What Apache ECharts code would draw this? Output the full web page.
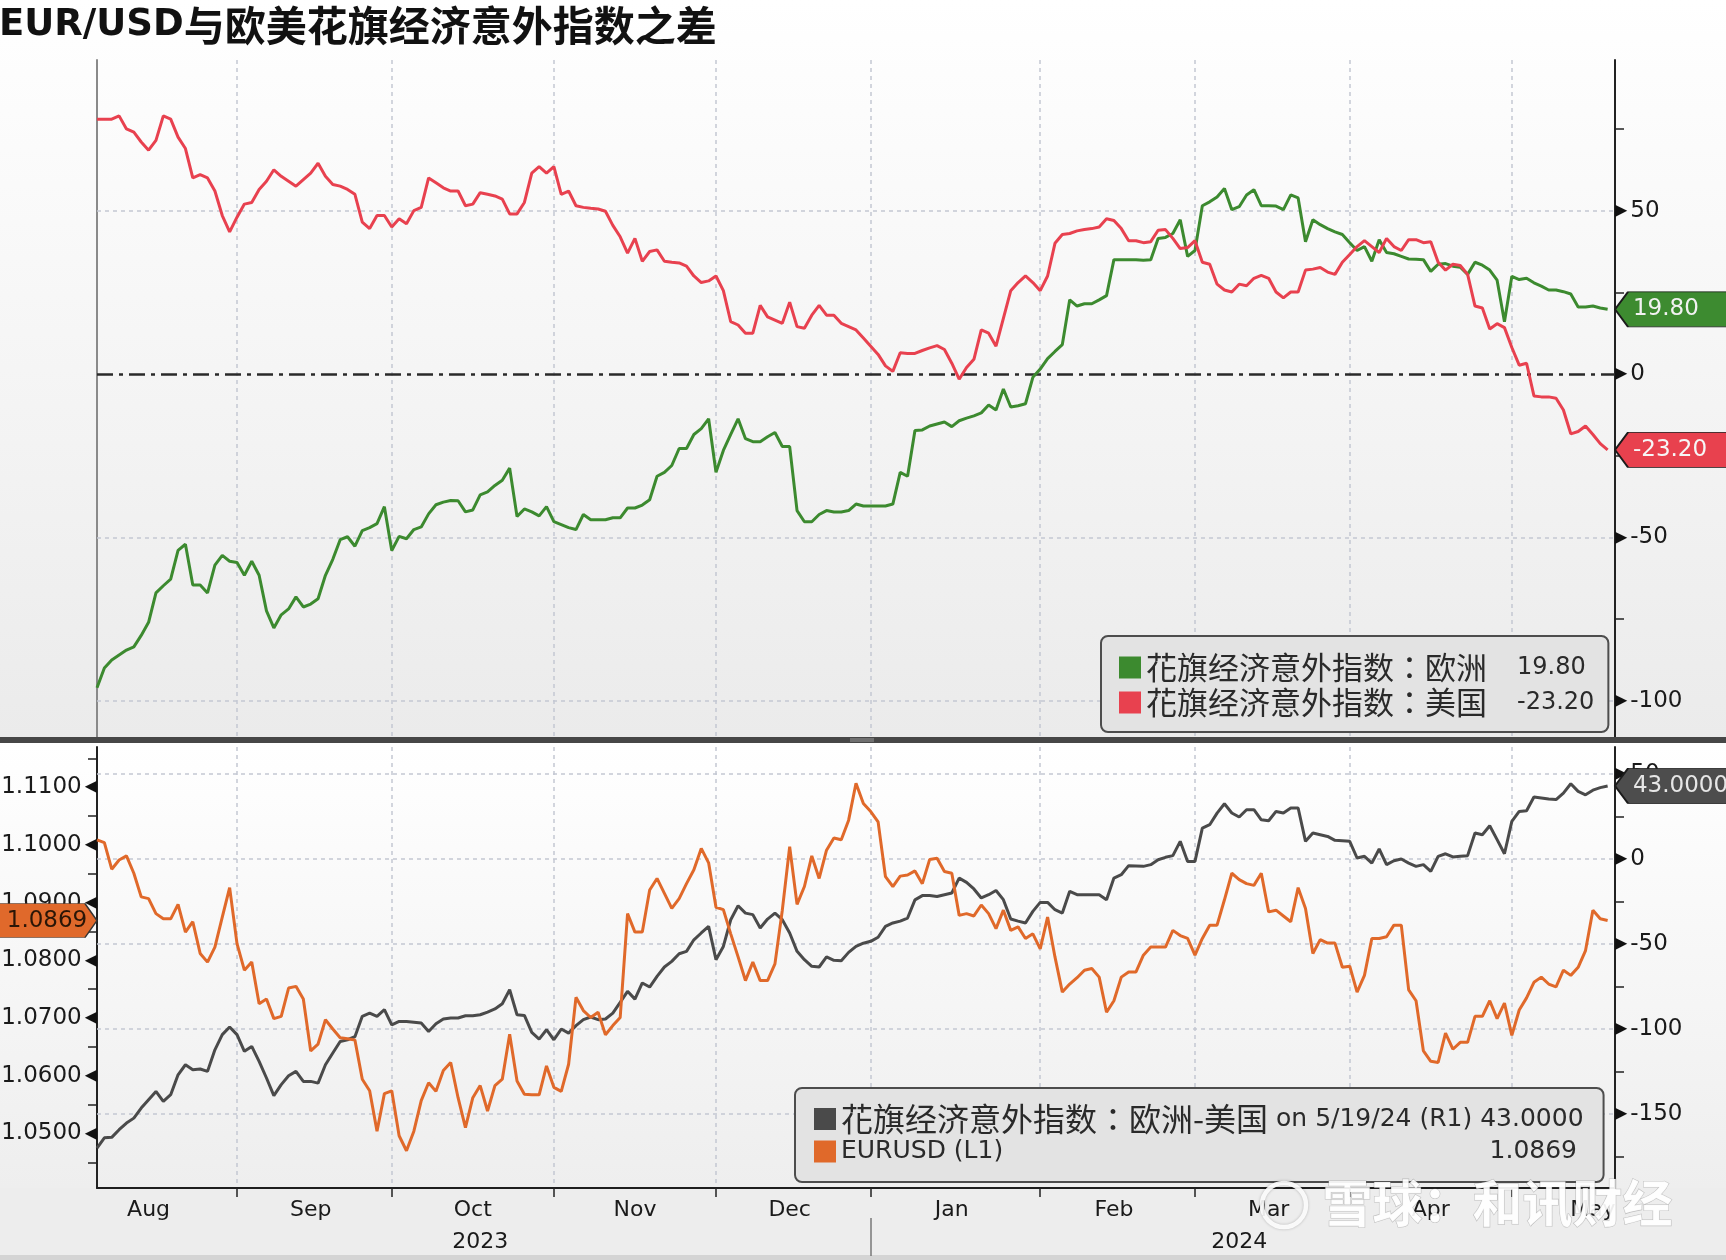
<!DOCTYPE html>
<html>
<head>
<meta charset="utf-8">
<script src="https://cdn.jsdelivr.net/npm/echarts@6/dist/echarts.min.js"></script>
<style>
html,body{margin:0;padding:0;background:#f1f1f1;}
#chart{width:1726px;height:1260px;}
</style>
</head>
<body>
<div id="chart"></div>
<script>
// ---------- categories: weekdays (business-day axis) ----------
const dates = (function () {
  const out = [];
  const d = new Date(Date.UTC(2023, 7, 7));
  const end = Date.UTC(2024, 4, 21);
  while (d.getTime() <= end) {
    const w = d.getUTCDay();
    if (w !== 0 && w !== 6) out.push(d.toISOString().slice(0, 10));
    d.setUTCDate(d.getUTCDate() + 1);
  }
  return out;
})();
const monthNames = ['Jan','Feb','Mar','Apr','May','Jun','Jul','Aug','Sep','Oct','Nov','Dec'];

// ---------- series values (one per weekday) ----------
const euSurprise = [
  -96,-90,-87.5,-86,-84.5,-83.5,-80,-76,-67,-64.8,
  -62.8,-54,-52.1,-64.6,-64.6,-67,-58.5,-55.5,-57.3,-57.7,
  -61.6,-57.3,-61.6,-72.5,-77.7,-73.7,-71.9,-68.2,-71.3,-70.4,
  -68.8,-61.6,-56.7,-50.7,-49.8,-52.7,-47.9,-47,-45.8,-40.6,
  -54,-49.7,-50.4,-47.6,-46.8,-42.8,-40,-39.2,-38.7,-38.8,
  -42.2,-41.6,-37,-36.1,-34.1,-32.5,-28.8,-43.6,-41.3,-42.2,
  -43.4,-40.6,-45.2,-46.1,-47,-47.6,-43,-44.6,-44.6,-44.6,
  -44,-44,-41,-41,-40.1,-38.5,-31.3,-30.1,-28,-22.8,
  -22.8,-18.5,-16.7,-13.7,-30.1,-23.4,-18.5,-13.7,-19.8,-20.7,
  -20.7,-19.2,-17.9,-22.2,-22.2,-41.8,-45.2,-45.2,-43,-41.8,
  -42.2,-42.2,-41.8,-39.8,-40.4,-40.4,-40.4,-40.4,-39.8,-30.1,
  -31.3,-17.3,-17.1,-15.9,-15.3,-14.7,-16.1,-14.3,-13.5,-12.8,
  -11.9,-9.5,-11,-4.6,-10.1,-9.7,-9.1,-1,1.5,4.7,
  6.9,9,22.7,20.8,21.5,21.5,22.7,24,35,35,
  35,35,34.8,35,41.5,41.8,43,47.2,36,37.8,
  51.5,52.7,54.2,56.8,50.3,51.2,54.8,56.4,51.5,51.5,
  51.4,50.3,54.8,53.9,40.5,47.2,45.7,44.5,43.5,42.7,
  40.2,37.8,39,34.5,41.1,37.2,36.8,36,35.2,35.1,
  35,31.4,33.6,33.8,33,32.7,30.5,34.2,33.3,31.8,
  28.7,16,29.9,28.9,29.3,27.9,26.9,25.7,25.7,25.2,
  24.5,20.5,20.5,20.8,20.2,19.8
];
const usSurprise = [
  78,78,78,79,75,74,71,68.5,71.5,79,
  78,72.5,69,60,61,60,56,48.5,43.5,48,
  52,52.5,56.5,59,62.5,60.5,59,57.5,59.5,61.5,
  64.5,60.5,58,57.5,56.5,55,46.5,44.5,48.5,48.5,
  45,47.5,46,50,51,60,58.5,57,56,56,
  51.5,52,55.5,55,54.5,53.5,49,49,52.5,61.5,
  63.5,61.5,63.5,55,56,51.5,51,50.7,50.5,49.8,
  45.5,42,37,41.5,34.5,37.5,38,34.5,34.2,34,
  33,30,28,28.5,30,25.5,16,15,12.5,12.5,
  21,17.5,16.5,15.5,22,14.5,14,18,21,18,
  18,15.5,14.5,13.5,11,8.5,6,2.5,0.8,6.5,
  6.3,6.3,7.2,8,8.7,7.5,3.3,-1.6,2,4.5,
  13.5,12.5,8.5,17,25.5,28,30,28,25.5,30,
  40,42.7,43,43.8,44.2,44.5,45,47.5,47,44.5,
  40.8,40.8,40.2,40.5,44,44.2,41.5,38.4,38.7,40.8,
  34.2,33.6,27.5,25.7,25.1,27.5,27,29.3,30.2,29.3,
  25.1,23.3,25.1,25.1,31.8,32.1,32.6,31.2,30.5,34.2,
  36.6,39,40.8,39,37.2,41.5,39,37.8,41.1,41.1,
  40.2,40.5,34.2,31.8,33.6,33.2,30.5,20.8,20.2,13.8,
  15.4,14.2,8.1,2.7,3.3,-6.7,-7,-7,-7.4,-11,
  -18.3,-17.6,-15.9,-18.5,-21.3,-23.2
];
const euMinusUs = [
  -170,-164,-163.7,-159.2,-155.3,-152.4,-146.5,-141.6,-136.7,-142.5,
  -138.6,-126.9,-121,-123.9,-123.5,-124.9,-112.2,-103.3,-98.8,-103.3,
  -113.1,-110.2,-119,-128.8,-139.2,-132.7,-127.5,-124.9,-130.8,-130.8,
  -131.8,-121,-114.1,-107.3,-106.3,-104.5,-92.5,-90.6,-92.5,-88.6,
  -97.5,-95.5,-95.5,-96,-96.5,-101.4,-96.9,-94.1,-93.5,-93.5,
  -92.2,-92.2,-91.6,-90,-88.2,-85.1,-76.9,-91.6,-92,-102,
  -105.9,-100.4,-106.3,-100,-102.4,-98,-94.5,-92.9,-94.5,-94.1,
  -90.6,-84.3,-77.8,-82.4,-72.9,-75.3,-69,-63.5,-60.2,-55.7,
  -54.3,-47.5,-43.5,-39.6,-59.2,-51.4,-35.7,-27.5,-31.8,-32.7,
  -40.6,-35.3,-31.8,-35.7,-43.5,-54.3,-59.2,-63.1,-63.5,-57.6,
  -59.6,-59.8,-54.9,-51.4,-49.5,-48.4,-46,-39.6,-37.6,-36.5,
  -34.7,-24,-21.5,-21.4,-22,-21,-20,-11.2,-13.7,-17.6,
  -22.9,-21,-18.5,-23.9,-35.3,-36.5,-37.6,-30.8,-25.5,-25.5,
  -29.8,-31.8,-19,-21,-21,-21,-21,-23.9,-11.2,-9.2,
  -3.9,-4.1,-4.3,-3.3,-0.4,1,2,10.4,-1.4,-1.4,
  18.2,20.2,27,32.5,27.1,24.7,29,29,23.1,22.5,
  28,27.1,30,30,10.4,15.3,14.3,13.3,11,10.7,
  10.4,0.6,1.6,-2.4,5.9,-3.3,-1,0,-2.4,-4.3,
  -3.3,-7.3,1.6,3.1,1.2,1.6,2,15.3,14.3,19.6,
  11.4,3.1,22.2,28,28.4,36.5,35.9,35.3,35,38.8,
  44.3,39.8,37.8,40.5,42,43
];
const eurusd = [
  1.1009,1.1004,1.0958,1.0974,1.0981,1.0951,1.0910,1.0907,1.0881,1.0872,
  1.0872,1.0897,1.0849,1.0867,1.0812,1.0797,1.0823,1.0875,1.0926,1.0829,
  1.0783,1.0797,1.0725,1.0733,1.0699,1.0703,1.0752,1.0755,1.0733,1.0643,
  1.0655,1.0697,1.0681,1.0666,1.0664,1.0662,1.0594,1.0574,1.0504,1.0569,
  1.0574,1.0496,1.0470,1.0504,1.0557,1.0588,1.0573,1.0609,1.0623,1.0562,
  1.0510,1.0562,1.0583,1.0539,1.0583,1.0594,1.0672,1.0591,1.0568,1.0567,
  1.0567,1.0617,1.0580,1.0573,1.0620,1.0736,1.0713,1.0701,1.0710,1.0671,
  1.0687,1.0701,1.0881,1.0849,1.0849,1.0922,1.0942,1.0916,1.0890,1.0907,
  1.0933,1.0957,1.0994,1.0969,1.0892,1.0888,1.0846,1.0806,1.0765,1.0797,
  1.0765,1.0765,1.0794,1.0887,1.0997,1.0897,1.0928,1.0981,1.0942,1.0991,
  1.1012,1.1009,1.1043,1.1107,1.1072,1.1058,1.1040,1.0945,1.0928,1.0946,
  1.0948,1.0955,1.0933,1.0975,1.0977,1.0954,1.0951,1.0878,1.0881,1.0877,
  1.0896,1.0881,1.0855,1.0887,1.0852,1.0858,1.0838,1.0846,1.0820,1.0875,
  1.0806,1.0745,1.0759,1.0770,1.0783,1.0786,1.0771,1.0710,1.0730,1.0771,
  1.0780,1.0780,1.0809,1.0823,1.0823,1.0823,1.0852,1.0843,1.0838,1.0809,
  1.0838,1.0861,1.0861,1.0905,1.0951,1.0940,1.0933,1.0930,1.0951,1.0884,
  1.0887,1.0877,1.0867,1.0926,1.0890,1.0812,1.0836,1.0830,1.0830,1.0788,
  1.0790,1.0745,1.0774,1.0838,1.0838,1.0841,1.0861,1.0861,1.0749,1.0730,
  1.0643,1.0625,1.0623,1.0674,1.0646,1.0658,1.0658,1.0703,1.0703,1.0730,
  1.0699,1.0726,1.0670,1.0714,1.0735,1.0762,1.0771,1.0759,1.0754,1.0783,
  1.0774,1.0788,1.0817,1.0887,1.0872,1.0869
];

// ---------- tick values ----------
const topAxisLabels = [50, 0, -50, -100];
const topAxisMinor = [75, 25, -25, -75];
const topGridValues = [50, -50, -100];
const diffAxisLabels = [50, 0, -50, -100, -150];
const diffAxisMinor = [25, -25, -75, -125, -175];
const diffGridValues = [50, 0, -50, -100, -150];
const fxAxisLabels = [1.11, 1.10, 1.09, 1.08, 1.07, 1.06, 1.05];
const fxAxisMinor = [1.115, 1.105, 1.095, 1.085, 1.075, 1.065, 1.055, 1.045];

// ---------- names ----------
const EU = '花旗经济意外指数：欧洲';
const US = '花旗经济意外指数：美国';
const DIFF = '花旗经济意外指数：欧洲-美国';
const FX = 'EURUSD';

const CJK = '"Noto Sans CJK SC", sans-serif';
const CJK_LEG = '"Noto Sans CJK TC", "Noto Sans CJK SC", sans-serif';
const NUM = '"DejaVu Sans", sans-serif';

const C_GREEN = '#3c8a2f', C_RED = '#e8414f', C_GRAY = '#4a4a4a', C_ORANGE = '#e0692a';

// ---------- helpers for the business-day axis ----------
const ym = s => s.slice(0, 7);
const monthStartSet = new Set();
dates.forEach((s, i) => { if (i > 0 && ym(s) !== ym(dates[i - 1])) monthStartSet.add(i); });
function weekdaysOfMonth(y, m) {
  const res = []; const d = new Date(Date.UTC(y, m, 1));
  while (d.getUTCMonth() === m) {
    const w = d.getUTCDay();
    if (w !== 0 && w !== 6) res.push(d.toISOString().slice(0, 10));
    d.setUTCDate(d.getUTCDate() + 1);
  }
  return res;
}
const monthMidSet = new Set();
dates.forEach((s, i) => {
  const wd = weekdaysOfMonth(+s.slice(0, 4), +s.slice(5, 7) - 1);
  if (wd.indexOf(s) === Math.floor(wd.length / 2)) monthMidSet.add(i);
});
const yearFirst = {}, yearLast = {};
dates.forEach((s, i) => { const y = s.slice(0, 4); if (!(y in yearFirst)) yearFirst[y] = i; yearLast[y] = i; });
const yearMidSet = new Set(Object.keys(yearFirst).map(y => Math.floor((yearFirst[y] + yearLast[y]) / 2)));
const yearStartSet = new Set(Object.keys(yearFirst).map(y => yearFirst[y]).filter(i => i > 0));

const lastOf = arr => arr[arr.length - 1];
const lastDate = dates[dates.length - 1];

const gridLineStyle = { color: '#c3c8d2', width: 1.5, type: [4, 4] };

const rightRich = {
  t: { fontFamily: NUM, fontSize: 16, color: '#111', padding: [0, 3, 0, 0] },
  v: { fontFamily: NUM, fontSize: 23, color: '#1a1a1a' }
};
const leftRich = {
  t: { fontFamily: NUM, fontSize: 16, color: '#111', padding: [0, 0, 0, 3] },
  v: { fontFamily: NUM, fontSize: 23, color: '#1a1a1a' }
};

function rightTag(value, fill, textColor, digits) {
  return {
    silent: true, animation: false,
    symbol: 'path://M0,17 L13,0 L125,0 L125,34 L13,34 Z',
    symbolSize: [125, 35], symbolOffset: [62.5, 0], symbolKeepAspect: false,
    itemStyle: { color: fill, borderColor: '#1b1b1b', borderWidth: 1.2 },
    label: { show: true, position: ['15%', '50%'], align: 'left', verticalAlign: 'middle',
      fontFamily: NUM, fontSize: 23, color: textColor, formatter: () => value.toFixed(digits) },
    data: [{ coord: [lastDate, value] }]
  };
}

const option = {
  animation: false,
  backgroundColor: '#f1f1f1',
  title: {
    text: '{a|EUR/USD}{b|与欧美花旗经济意外指数之差}',
    left: -1, top: 5, padding: 0,
    textStyle: { rich: {
      a: { fontFamily: NUM, fontWeight: 'bold', fontSize: 37, color: '#111' },
      b: { fontFamily: CJK, fontWeight: 'bold', fontSize: 41, color: '#111' }
    } }
  },
  grid: [
    { left: 97, right: 111, top: 60, height: 679, containLabel: false, outerBoundsMode: 'none' },
    { left: 97, right: 111, top: 747, height: 441, containLabel: false, outerBoundsMode: 'none' }
  ],
  xAxis: [
    { gridIndex: 0, type: 'category', data: dates, boundaryGap: false,
      axisLine: { show: false, onZero: false }, axisTick: { show: false }, axisLabel: { show: false },
      splitLine: { show: true, interval: i => monthStartSet.has(i), lineStyle: gridLineStyle } },
    { gridIndex: 1, type: 'category', data: dates, boundaryGap: false, position: 'bottom',
      axisLine: { show: true, onZero: false, lineStyle: { color: '#1e1e1e', width: 2 } },
      axisTick: { show: true, interval: i => monthStartSet.has(i), length: 9, lineStyle: { color: '#222', width: 1.5 } },
      axisLabel: { show: true, interval: i => monthMidSet.has(i), formatter: v => monthNames[+v.slice(5, 7) - 1],
        margin: 11, fontFamily: NUM, fontSize: 22, color: '#1a1a1a' },
      splitLine: { show: true, interval: i => monthStartSet.has(i), lineStyle: gridLineStyle } },
    { gridIndex: 1, type: 'category', data: dates, boundaryGap: false, position: 'bottom', offset: 30,
      axisLine: { show: false, onZero: false },
      axisTick: { show: true, interval: i => yearStartSet.has(i), length: 38, lineStyle: { color: '#777', width: 1.5 } },
      axisLabel: { show: true, interval: i => yearMidSet.has(i), formatter: v => v.slice(0, 4),
        margin: 13, fontFamily: NUM, fontSize: 22, color: '#1a1a1a' },
      splitLine: { show: false } }
  ],
  yAxis: [
    { gridIndex: 0, type: 'value', position: 'right', min: -111.7, max: 96.1,
      axisLine: { show: true, onZero: false, lineStyle: { color: '#222', width: 2 } },
      axisTick: { show: true, customValues: topAxisMinor, length: 9, lineStyle: { color: '#222', width: 1.5 } },
      axisLabel: { show: true, customValues: topAxisLabels, margin: 0, formatter: v => '{t|▶}{v|' + v + '}', rich: rightRich },
      splitLine: { show: false } },
    { gridIndex: 0, type: 'value', position: 'left', min: -111.7, max: 96.1,
      axisLine: { show: true, onZero: false, lineStyle: { color: '#8a8a8a', width: 2 } },
      axisTick: { show: false }, axisLabel: { show: false }, splitLine: { show: false } },
    { gridIndex: 1, type: 'value', position: 'right', min: -193.5, max: 65.9,
      axisLine: { show: true, onZero: false, lineStyle: { color: '#222', width: 2 } },
      axisTick: { show: true, customValues: diffAxisMinor, length: 9, lineStyle: { color: '#222', width: 1.5 } },
      axisLabel: { show: true, customValues: diffAxisLabels, margin: 0, formatter: v => '{t|▶}{v|' + v + '}', rich: rightRich },
      splitLine: { show: false } },
    { gridIndex: 1, type: 'value', position: 'left', min: 1.04055, max: 1.11698,
      axisLine: { show: true, onZero: false, lineStyle: { color: '#222', width: 2 } },
      axisTick: { show: true, customValues: fxAxisMinor, length: 9, lineStyle: { color: '#222', width: 1.5 } },
      axisLabel: { show: true, customValues: fxAxisLabels, margin: 0, formatter: v => '{v|' + v.toFixed(4) + '}{t|◀}', rich: leftRich },
      splitLine: { show: false } }
  ],
  legend: [
    { data: [EU, US], orient: 'vertical', left: 1101, top: 636, padding: [16, 14, 14, 18],
      itemWidth: 22, itemHeight: 22, itemGap: 4, icon: 'rect', selectedMode: false,
      backgroundColor: '#e3e3e3', borderColor: '#4d4d4d', borderWidth: 2, borderRadius: 7,
      formatter: name => '{n|' + name + '}{v|' + lastOf(name === EU ? euSurprise : usSurprise).toFixed(2) + '}',
      textStyle: { rich: {
        n: { fontFamily: CJK_LEG, fontSize: 31, color: '#2a2a2a', width: 371, lineHeight: 30 },
        v: { fontFamily: NUM, fontSize: 24, color: '#2a2a2a', width: 76, lineHeight: 30 }
      } } },
    { data: [DIFF, FX], orient: 'vertical', left: 795, top: 1088, padding: [15, 20, 18, 19],
      itemWidth: 22, itemHeight: 22, itemGap: 4, icon: 'rect', selectedMode: false,
      backgroundColor: '#e3e3e3', borderColor: '#4d4d4d', borderWidth: 2, borderRadius: 7,
      formatter: name => name === DIFF
        ? '{n|' + name + '}{l| on 5/19/24 (R1) ' + lastOf(euMinusUs).toFixed(4) + '}'
        : '{m|EURUSD (L1)}{v|' + lastOf(eurusd).toFixed(4) + '}',
      textStyle: { rich: {
        n: { fontFamily: CJK_LEG, fontSize: 32, color: '#2a2a2a', lineHeight: 30 },
        l: { fontFamily: NUM, fontSize: 25, color: '#2a2a2a', lineHeight: 30 },
        m: { fontFamily: NUM, fontSize: 25, color: '#2a2a2a', width: 631, lineHeight: 30 },
        v: { fontFamily: NUM, fontSize: 25, color: '#2a2a2a', width: 105, align: 'right', lineHeight: 30 }
      } } }
  ],
  series: [
    { name: EU, type: 'line', xAxisIndex: 0, yAxisIndex: 0, data: euSurprise, z: 3,
      symbol: 'none', showSymbol: false, silent: true, clip: false,
      lineStyle: { color: C_GREEN, width: 3 }, itemStyle: { color: C_GREEN },
      markLine: { silent: true, symbol: ['none', 'none'], z: 1, animation: false, label: { show: false },
        lineStyle: gridLineStyle,
        data: topGridValues.map(v => ({ yAxis: v })).concat([
          { yAxis: 0, lineStyle: { color: '#2a2a2a', width: 2.5, type: [16, 6, 4, 6] } }]) },
      markPoint: rightTag(lastOf(euSurprise), '#3d8b30', '#f2f2f2', 2) },
    { name: US, type: 'line', xAxisIndex: 0, yAxisIndex: 0, data: usSurprise, z: 3,
      symbol: 'none', showSymbol: false, silent: true, clip: false,
      lineStyle: { color: C_RED, width: 3 }, itemStyle: { color: C_RED },
      markPoint: rightTag(lastOf(usSurprise), '#e8414e', '#f6f6f6', 2) },
    { name: DIFF, type: 'line', xAxisIndex: 1, yAxisIndex: 2, data: euMinusUs, z: 3,
      symbol: 'none', showSymbol: false, silent: true, clip: false,
      lineStyle: { color: C_GRAY, width: 3 }, itemStyle: { color: C_GRAY },
      markLine: { silent: true, symbol: ['none', 'none'], z: 1, animation: false, label: { show: false },
        lineStyle: gridLineStyle, data: diffGridValues.map(v => ({ yAxis: v })) },
      markPoint: rightTag(lastOf(euMinusUs), '#4d4d4d', '#e6e6e6', 4) },
    { name: FX, type: 'line', xAxisIndex: 1, yAxisIndex: 3, data: eurusd, z: 3,
      symbol: 'none', showSymbol: false, silent: true, clip: false,
      lineStyle: { color: C_ORANGE, width: 3 }, itemStyle: { color: C_ORANGE },
      markPoint: {
        silent: true, animation: false,
        symbol: 'path://M0,0 L88,0 L100,17 L88,34 L0,34 Z',
        symbolSize: [100, 34], symbolOffset: [-50, 0], symbolKeepAspect: false,
        itemStyle: { color: '#e0692b', borderColor: '#333', borderWidth: 1 },
        label: { show: true, position: 'inside', fontFamily: NUM, fontSize: 23, color: '#2b1607',
          formatter: () => lastOf(eurusd).toFixed(4) },
        data: [{ coord: [dates[0], lastOf(eurusd)] }]
      } }
  ],
  graphic: [
    { type: 'rect', z: -100, silent: true, shape: { x: 0, y: 0, width: 1726, height: 738 },
      style: { fill: new echarts.graphic.LinearGradient(0, 0, 0, 1, [{ offset: 0, color: '#ffffff' }, { offset: 1, color: '#ebebeb' }]) } },
    { type: 'rect', z: -100, silent: true, shape: { x: 0, y: 743, width: 1726, height: 445 },
      style: { fill: new echarts.graphic.LinearGradient(0, 0, 0, 1, [{ offset: 0, color: '#ffffff' }, { offset: 1, color: '#eeeeee' }]) } },
    { type: 'rect', z: -100, silent: true, shape: { x: 0, y: 1188, width: 1726, height: 67 }, style: { fill: '#ededed' } },
    { type: 'rect', z: -100, silent: true, shape: { x: 0, y: 1255, width: 1726, height: 5 }, style: { fill: '#d4d4d4' } },
    { type: 'rect', z: 20, silent: true, shape: { x: 0, y: 737, width: 1726, height: 6 }, style: { fill: '#474747' } },
    { type: 'rect', z: 21, silent: true, shape: { x: 850, y: 738.5, width: 24, height: 1 }, style: { fill: '#9a9a9a' } },
    { type: 'rect', z: 21, silent: true, shape: { x: 850, y: 740.5, width: 24, height: 1 }, style: { fill: '#9a9a9a' } },
    { type: 'circle', z: 30, silent: true, shape: { cx: 1284, cy: 1205, r: 22 },
      style: { fill: 'none', stroke: 'rgba(255,255,255,0.9)', lineWidth: 4.5, shadowColor: 'rgba(0,0,0,0.25)', shadowBlur: 3 } },
    { type: 'text', z: 30, silent: true, left: 1322, top: 1177,
      style: { text: '雪球：和讯财经', fontFamily: '"Noto Sans CJK SC"', fontWeight: 'bold', fontSize: 50,
        fill: 'rgba(255,255,255,0.92)', stroke: 'rgba(110,110,110,0.35)', lineWidth: 1.2,
        shadowColor: 'rgba(0,0,0,0.2)', shadowBlur: 3 } }
  ]
};

const chart = echarts.init(document.getElementById('chart'), null, { renderer: 'canvas' });
chart.setOption(option);
</script>
</body>
</html>
